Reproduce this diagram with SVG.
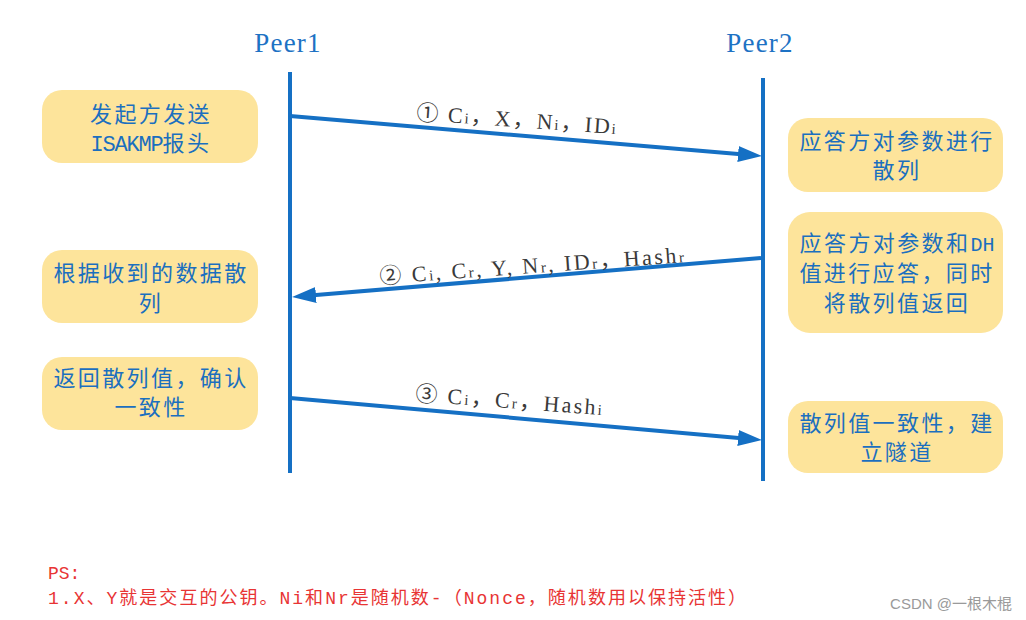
<svg xmlns="http://www.w3.org/2000/svg" width="1026" height="620" viewBox="0 0 1026 620">
<style>
.peer{font-family:"Liberation Serif","Noto Sans CJK SC",serif;font-size:27px;fill:#1d72c4;letter-spacing:1.2px;text-anchor:middle}
.life{stroke:#1570c4;stroke-width:4;fill:none}
.box{fill:#fde49b}
.bt{font-family:"Noto Sans CJK SC",sans-serif;font-size:22px;fill:#1b6fbf;letter-spacing:2.4px;text-anchor:middle}
.lat{font-family:"Liberation Mono",monospace;font-size:22px;letter-spacing:-1.2px}
.lat2{font-family:"Liberation Mono",monospace;font-size:20px;letter-spacing:0}
.arr{stroke:#1570c4;stroke-width:4;fill:none;marker-end:url(#ah)}
.lbl{font-family:"Liberation Serif","Noto Sans CJK SC",serif;font-size:22px;fill:#3a3a3a}
.sub{font-size:15px}
.ps{font-family:"Liberation Mono","Noto Sans CJK SC",monospace;font-size:18px;fill:#e83434}
.wm{font-family:"Liberation Sans","Noto Sans CJK SC",sans-serif;font-size:15px;fill:#9a9a9a;text-anchor:end}
</style>
<defs>
<marker id="ah" markerUnits="userSpaceOnUse" markerWidth="24" markerHeight="16" refX="12" refY="8" orient="auto">
<path d="M0,0 L24,8 L0,16 z" fill="#1570c4"/>
</marker>
</defs>

<g id="peer1">
<text class="peer" x="288" y="52">Peer1</text>
<line class="life" x1="290" y1="72" x2="290" y2="473"/>
</g>
<g id="peer2">
<text class="peer" x="760" y="52">Peer2</text>
<line class="life" x1="763" y1="78" x2="763" y2="481"/>
</g>

<g id="l1">
<rect class="box" x="42" y="90" width="216" height="73" rx="20"/>
<text class="bt" x="151" y="121.5">发起方发送</text>
<text class="bt" x="151" y="151"><tspan class="lat">ISAKMP</tspan>报头</text>
</g>
<g id="l2">
<rect class="box" x="42" y="250" width="216" height="73" rx="20"/>
<text class="bt" x="151" y="280.5">根据收到的数据散</text>
<text class="bt" x="151" y="310.5">列</text>
</g>
<g id="l3">
<rect class="box" x="42" y="357" width="216" height="73" rx="20"/>
<text class="bt" x="151" y="386">返回散列值，确认</text>
<text class="bt" x="151" y="415">一致性</text>
</g>

<g id="r1">
<rect class="box" x="788" y="118" width="215" height="74" rx="20"/>
<text class="bt" x="897" y="148.5">应答方对参数进行</text>
<text class="bt" x="897" y="178">散列</text>
</g>
<g id="r2">
<rect class="box" x="788" y="212" width="215" height="121" rx="22"/>
<text class="bt" x="897" y="251">应答方对参数和<tspan class="lat2">DH</tspan></text>
<text class="bt" x="897" y="281">值进行应答，同时</text>
<text class="bt" x="897" y="311">将散列值返回</text>
</g>
<g id="r3">
<rect class="box" x="788" y="401" width="215" height="72" rx="20"/>
<text class="bt" x="897" y="431">散列值一致性，建</text>
<text class="bt" x="897" y="460">立隧道</text>
</g>

<g id="connectors">
<line class="arr" x1="290" y1="116" x2="750" y2="155"/>
<text class="lbl" x="416" y="120" transform="rotate(4 416 120)" textLength="200" lengthAdjust="spacing">① C<tspan class="sub">i</tspan>，X，N<tspan class="sub">i</tspan>，ID<tspan class="sub">i</tspan></text>

<line class="arr" x1="761" y1="258" x2="304" y2="296"/>
<text class="lbl" x="380" y="284" transform="rotate(-4.1 380 284)" textLength="305" lengthAdjust="spacing">② C<tspan class="sub">i</tspan>, C<tspan class="sub">r</tspan>, Y, N<tspan class="sub">r</tspan>, ID<tspan class="sub">r</tspan>，Hash<tspan class="sub">r</tspan></text>

<line class="arr" x1="290" y1="398" x2="750" y2="439"/>
<text class="lbl" x="415" y="401" transform="rotate(4.3 415 401)" textLength="187" lengthAdjust="spacing">③ C<tspan class="sub">i</tspan>，C<tspan class="sub">r</tspan>，Hash<tspan class="sub">i</tspan></text>
</g>

<g id="notes">
<text class="ps" x="48" y="579">PS:</text>
<text class="ps" x="48" y="604" textLength="698" lengthAdjust="spacing">1.X、Y就是交互的公钥。Ni和Nr是随机数-（Nonce，随机数用以保持活性）</text>
<text class="wm" x="1012" y="609">CSDN @一根木棍</text>
</g>
</svg>
